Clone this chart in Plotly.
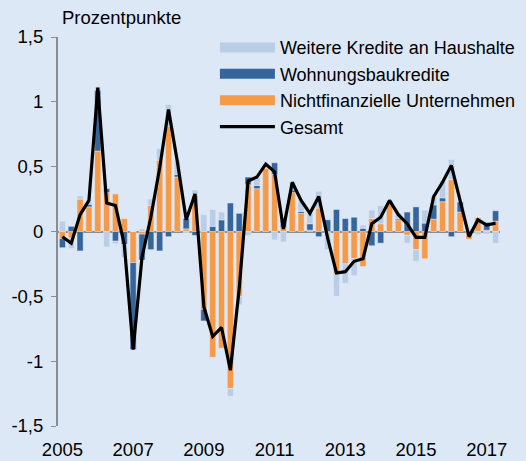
import plotly.graph_objects as go

# Quarterly categories 2005Q1 .. 2017Q2
quarters = [f"{y}Q{q}" for y in range(2005, 2018) for q in (1, 2, 3, 4)][:50]

tick_years = ["2005", "2007", "2009", "2011", "2013", "2015", "2017"]
y_tickvals = [1.5, 1, 0.5, 0, -0.5, -1, -1.5]
y_ticktext = ["1,5", "1", "0,5", "0", "-0,5", "-1", "-1,5"]

unternehmen = [-0.055, -0.05, 0.25, 0.19, 0.62, 0.30, 0.29, 0.10,
               -0.24, -0.02, 0.20, 0.55, 0.81, 0.42, 0.02, 0.28,
               -0.60, -0.97, -0.90, -1.21, -0.50, 0.36, 0.33, 0.49,
               0.44, 0.03, 0.30, 0.14, 0.01, 0.18, -0.01, -0.33,
               -0.25, -0.21, -0.27, 0.10, 0.06, 0.22, 0.09, -0.03,
               -0.14, -0.21, 0.095, 0.23, 0.40, 0.15, -0.06, 0.11,
               0.01, 0.08]
wohnungsbau = [-0.07, 0.04, -0.15, 0.02, 0.47, 0.03, -0.075, -0.10,
               -0.67, -0.20, -0.14, -0.15, -0.04, 0.02, 0.08, -0.03,
               -0.09, 0.04, 0.09, 0.22, 0.14, 0.06, 0.025, 0.0,
               0.09, 0.07, 0.02, 0.015, 0.05, -0.04, 0.09, 0.17,
               0.10, 0.11, 0.025, -0.11, -0.09, 0.0, 0.01, 0.15,
               0.19, 0.065, 0.11, 0.03, -0.04, 0.08, 0.0, 0.0,
               0.06, 0.08]
haushalte = [0.08, -0.08, 0.025, 0.02, 0.025, -0.12, -0.02, -0.10,
             0.0, 0.02, 0.05, 0.09, 0.17, 0.11, -0.01, 0.04,
             0.13, 0.13, 0.06, -0.06, -0.065, -0.03, 0.06, 0.03,
             -0.065, -0.08, 0.06, 0.08, 0.08, 0.13, -0.13, -0.17,
             -0.15, -0.13, 0.025, 0.065, 0.14, 0.02, 0.04, -0.06,
             -0.09, 0.10, 0.065, 0.13, 0.155, 0.0, 0.02, -0.025,
             -0.02, -0.09]
gesamt = [-0.04, -0.09, 0.13, 0.24, 1.11, 0.22, 0.20, -0.10,
          -0.91, -0.20, 0.11, 0.49, 0.94, 0.54, 0.09, 0.29,
          -0.58, -0.81, -0.74, -1.07, -0.44, 0.39, 0.42, 0.52,
          0.46, 0.02, 0.38, 0.24, 0.14, 0.27, -0.05, -0.32,
          -0.31, -0.23, -0.21, 0.06, 0.11, 0.24, 0.13, 0.06,
          -0.045, -0.045, 0.27, 0.38, 0.51, 0.23, -0.04, 0.09,
          0.05, 0.065]

C_ORANGE = "#f79a48"
C_DARK = "#36659c"
C_LIGHT = "#b9cde6"
BG = "#dce8f6"
FONT = "Liberation Sans, Arial, sans-serif"
FS = 18.5

fig = go.Figure()
fig.add_trace(go.Bar(x=quarters, y=unternehmen, marker_color=C_ORANGE,
                     name="Nichtfinanzielle Unternehmen", showlegend=False))
fig.add_trace(go.Bar(x=quarters, y=wohnungsbau, marker_color=C_DARK,
                     name="Wohnungsbaukredite", showlegend=False))
fig.add_trace(go.Bar(x=quarters, y=haushalte, marker_color=C_LIGHT,
                     name="Weitere Kredite an Haushalte", showlegend=False))
fig.add_trace(go.Scatter(x=quarters, y=gesamt, mode="lines",
                         line=dict(color="black", width=3.2),
                         name="Gesamt", showlegend=False))

# legend entries with wide swatches
legend_items = [("Weitere Kredite an Haushalte", C_LIGHT, 14, 1),
                ("Wohnungsbaukredite", C_DARK, 14, 2),
                ("Nichtfinanzielle Unternehmen", C_ORANGE, 14, 3),
                ("Gesamt", "black", 3.2, 4)]
for name, col, w, rank in legend_items:
    fig.add_trace(go.Scatter(x=[None], y=[None], mode="lines",
                             line=dict(color=col, width=w), name=name,
                             legendrank=rank, showlegend=True))

fig.update_layout(
    width=526, height=461,
    paper_bgcolor=BG, plot_bgcolor=BG,
    barmode="relative", bargap=0.3,
    margin=dict(l=58, r=26, t=37, b=35, autoexpand=False),
    font=dict(family=FONT, size=FS, color="black"),
    showlegend=True,
    legend=dict(x=0.355, y=1.02, xanchor="left", yanchor="top",
                bgcolor="rgba(0,0,0,0)", itemwidth=55,
                tracegroupgap=0, font=dict(size=18)),
)
fig.update_xaxes(
    type="category", categoryorder="array", categoryarray=quarters,
    tickvals=[y + "Q1" for y in tick_years], ticktext=tick_years,
    showgrid=False, showline=False, ticks="", zeroline=False,
    tickfont=dict(size=FS), ticklabelstandoff=10, automargin=False,
)
fig.update_yaxes(
    range=[-1.5, 1.5], tickvals=y_tickvals, ticktext=y_ticktext,
    showgrid=False, showline=True, linecolor="#8c8c8c", linewidth=2,
    ticks="outside", ticklen=5, tickcolor="#8c8c8c", tickwidth=1,
    zeroline=True, zerolinecolor="#8c8c8c", zerolinewidth=2,
    tickfont=dict(size=FS), ticklabelstandoff=4, automargin=False,
)
fig.add_annotation(text="Prozentpunkte", xref="paper", yref="paper",
                   x=0.004, y=1.0, yshift=20, xanchor="left", yanchor="middle",
                   showarrow=False, font=dict(size=FS))

fig.write_html("out.html", config={"displayModeBar": False},
               post_script="document.body.style.margin='0';document.body.style.background='#dce8f6';")
